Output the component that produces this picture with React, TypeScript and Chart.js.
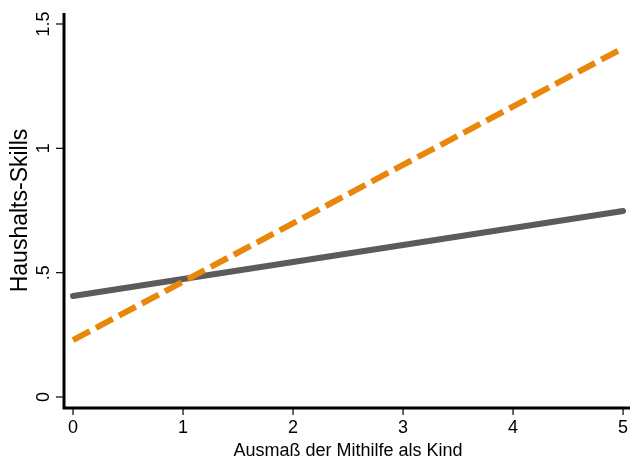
import React, { useEffect, useRef } from "react";
import { Chart, registerables } from "chart.js";

Chart.register(...registerables);

const xValues = [0, 5];
const graySeries = [0.406, 0.748];
const orangeSeries = [0.229, 1.403];
const xTicks = [0, 1, 2, 3, 4, 5];
const yTicks = [0, 0.5, 1, 1.5];
const yTickLabels = ["0", ".5", "1", "1.5"];
const xTitle = "Ausmaß der Mithilfe als Kind";
const yTitle = "Haushalts-Skills";

const FONT = "'Liberation Sans', Arial, sans-serif";

const axesPlugin = {
  id: "stataAxes",
  beforeDatasetsDraw(chart: any) {
    const { ctx, chartArea, scales } = chart;
    const xs = scales.x;
    const ys = scales.y;
    ctx.save();
    ctx.strokeStyle = "#000";
    ctx.fillStyle = "#000";
    // axis lines
    ctx.lineWidth = 3;
    ctx.beginPath();
    ctx.moveTo(chartArea.left, chartArea.top);
    ctx.lineTo(chartArea.left, chartArea.bottom);
    ctx.lineTo(chartArea.right, chartArea.bottom);
    ctx.stroke();
    // ticks
    ctx.lineWidth = 1.2;
    yTicks.forEach((v) => {
      const py = ys.getPixelForValue(v);
      ctx.beginPath();
      ctx.moveTo(chartArea.left - 8, py);
      ctx.lineTo(chartArea.left - 1, py);
      ctx.stroke();
    });
    xTicks.forEach((v) => {
      const px = xs.getPixelForValue(v);
      ctx.beginPath();
      ctx.moveTo(px, chartArea.bottom + 1);
      ctx.lineTo(px, chartArea.bottom + 7);
      ctx.stroke();
    });
    // tick labels
    ctx.font = `18px ${FONT}`;
    ctx.textAlign = "center";
    ctx.textBaseline = "alphabetic";
    xTicks.forEach((v) => {
      const px = xs.getPixelForValue(v);
      ctx.fillText(String(v), px, chartArea.bottom + 25);
    });
    yTicks.forEach((v, i) => {
      const py = ys.getPixelForValue(v);
      ctx.save();
      ctx.translate(chartArea.left - 15, py);
      ctx.rotate(-Math.PI / 2);
      ctx.fillText(yTickLabels[i], 0, 0);
      ctx.restore();
    });
    // titles
    ctx.font = `18px ${FONT}`;
    ctx.fillText(xTitle, (xs.getPixelForValue(0) + xs.getPixelForValue(5)) / 2, chartArea.bottom + 48);
    ctx.font = `23px ${FONT}`;
    ctx.save();
    ctx.translate(27, (ys.getPixelForValue(0) + ys.getPixelForValue(1.5)) / 2);
    ctx.rotate(-Math.PI / 2);
    ctx.fillText(yTitle, 0, 0);
    ctx.restore();
    ctx.restore();
  },
};

export default function App() {
  const ref = useRef<HTMLCanvasElement | null>(null);
  useEffect(() => {
    if (!ref.current) return;
    const chart = new Chart(ref.current, {
      type: "line",
      data: {
        datasets: [
          {
            label: "gray",
            data: xValues.map((x, i) => ({ x, y: graySeries[i] })),
            borderColor: "#5b5b5b",
            borderWidth: 6,
            borderCapStyle: "round",
            pointRadius: 0,
            order: 2,
          },
          {
            label: "orange",
            data: xValues.map((x, i) => ({ x, y: orangeSeries[i] })),
            borderColor: "#e8870a",
            borderWidth: 6,
            borderDash: [19, 7],
            borderCapStyle: "butt",
            pointRadius: 0,
            order: 1,
          },
        ],
      },
      options: {
        responsive: false,
        animation: false,
        layout: { padding: { left: 64, top: 13, bottom: 51, right: 0 } },
        plugins: { legend: { display: false }, tooltip: { enabled: false } },
        scales: {
          x: { type: "linear", min: -0.082, max: 5.063, display: false },
          y: { type: "linear", min: -0.0442, max: 1.5442, display: false },
        },
        elements: { line: { tension: 0 } },
      },
      plugins: [axesPlugin],
    } as any);
    return () => chart.destroy();
  }, []);
  return (
    <div style={{ position: "fixed", left: 0, top: 0, width: 630, height: 459, background: "#fff" }}>
      <canvas ref={ref} width={630} height={459} style={{ display: "block" }} />
    </div>
  );
}
